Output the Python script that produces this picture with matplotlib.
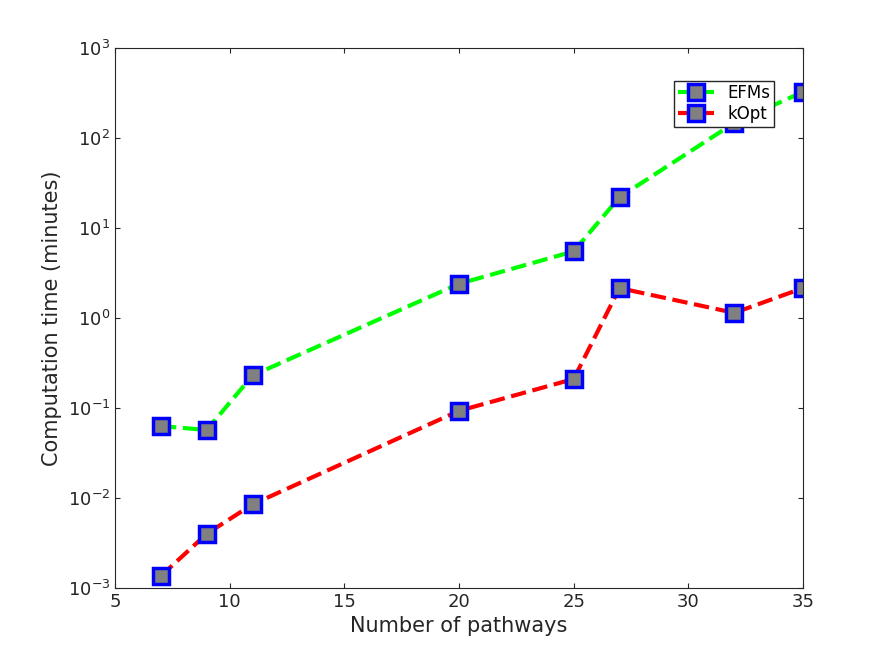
import matplotlib.pyplot as plt

pathways = [7, 9, 11, 20, 25, 27, 32, 35]
efm_time = [0.063, 0.057, 0.23, 2.4, 5.5, 22, 147, 325]
kopt_time = [0.00136, 0.004, 0.0085, 0.093, 0.21, 2.15, 1.14, 2.15]

fig = plt.figure(figsize=(8.87, 6.58), dpi=100)
ax = fig.add_axes([115 / 887, 70 / 658, 688 / 887, 540 / 658])

mk = dict(marker='s', markersize=11, markerfacecolor='#808080',
          markeredgecolor='#0000ff', markeredgewidth=2.5, linewidth=3)
ax.plot(pathways, efm_time, '--', color='#00ff00', label='EFMs', **mk)
ax.plot(pathways, kopt_time, '--', color='#ff0000', label='kOpt', **mk)

ax.set_yscale('log')
ax.set_xlim(5, 35)
ax.set_ylim(1e-3, 1e3)
ax.set_xticks([5, 10, 15, 20, 25, 30, 35])
ax.set_xlabel('Number of pathways', fontsize=15, color='#262626')
ax.set_ylabel('Computation time (minutes)', fontsize=15, color='#262626')
ax.tick_params(labelsize=13, colors='#262626', direction='in', which='both', top=True, right=True)
ax.minorticks_off()
for s in ax.spines.values():
    s.set_color('#262626')

leg = ax.legend(loc='upper right', bbox_to_anchor=(0.97, 0.955), fontsize=12,
                fancybox=False, framealpha=1, edgecolor='#262626',
                borderpad=0.2, handlelength=2.2, labelspacing=0.2)

fig.savefig('out.png')
